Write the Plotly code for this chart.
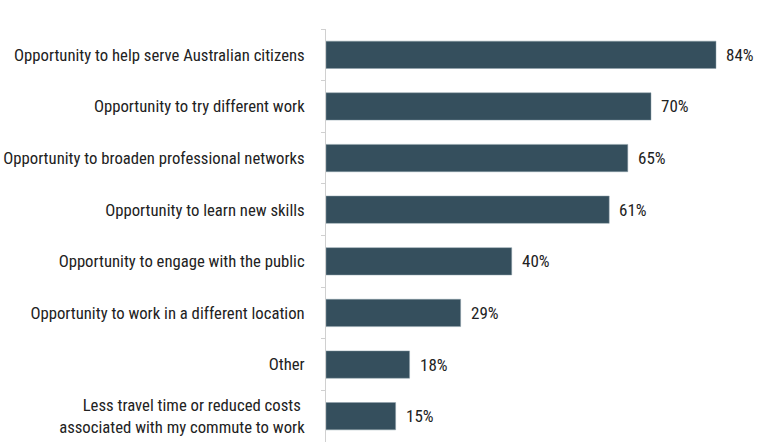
import plotly.graph_objects as go

categories = [
    "Opportunity to help serve Australian citizens",
    "Opportunity to try different work",
    "Opportunity to broaden professional networks",
    "Opportunity to learn new skills",
    "Opportunity to engage with the public",
    "Opportunity to work in a different location",
    "Other",
    "Less travel time or reduced costs <br>associated with my commute to work",
]
values = [84, 70, 65, 61, 40, 29, 18, 15]

FONT = "Liberation Sans Narrow, Arial Narrow, Roboto Condensed, sans-serif"
BAR = "#354f5d"

fig = go.Figure(go.Bar(
    x=values, y=categories, orientation="h",
    marker=dict(color=BAR, line=dict(color="#8fa0aa", width=0.5)),
    hoverinfo="skip",
))

for c, v in zip(categories, values):
    fig.add_annotation(x=v, y=c, text=f"{v}%", showarrow=False,
                       xanchor="left", xshift=8,
                       font=dict(family=FONT, size=17, color="#222222"))

fig.update_layout(
    width=768, height=444,
    margin=dict(l=326, r=0, t=29, b=2),
    paper_bgcolor="white", plot_bgcolor="white",
    bargap=0.47,
    showlegend=False,
    font=dict(family=FONT, size=16.7, color="#222222"),
)
fig.update_xaxes(range=[0, 95.2], visible=False, automargin=False)
fig.update_yaxes(
    autorange="reversed", type="category", automargin=False,
    showline=True, linecolor="#d0d0d0", linewidth=1,
    ticks="outside", tickson="boundaries", ticklen=4, tickcolor="#d0d0d0",
    ticklabelstandoff=17, showgrid=False,
    tickfont=dict(family=FONT, size=16.7, color="#222222"),
)

fig.write_html("out.html", config={"displayModeBar": False},
               post_script="document.body.style.margin='0';")
